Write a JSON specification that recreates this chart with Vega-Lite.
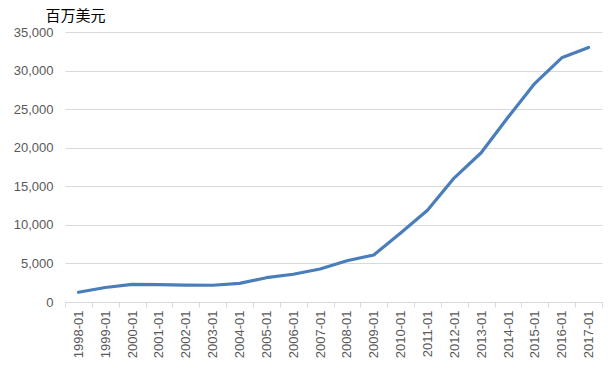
{
  "$schema": "https://vega.github.io/schema/vega-lite/v6.json",
  "width": 537,
  "height": 270,
  "autosize": {"type": "none"},
  "padding": {"left": 65, "top": 32, "right": 12, "bottom": 68},
  "background": "white",
  "config": {"view": {"stroke": null}},
  "data": {"values": [
    {"month": "1998-01", "value": 1260},
    {"month": "1999-01", "value": 1880},
    {"month": "2000-01", "value": 2290},
    {"month": "2001-01", "value": 2250},
    {"month": "2002-01", "value": 2200},
    {"month": "2003-01", "value": 2170},
    {"month": "2004-01", "value": 2420},
    {"month": "2005-01", "value": 3150},
    {"month": "2006-01", "value": 3600},
    {"month": "2007-01", "value": 4280},
    {"month": "2008-01", "value": 5350},
    {"month": "2009-01", "value": 6100},
    {"month": "2010-01", "value": 8950},
    {"month": "2011-01", "value": 11900},
    {"month": "2012-01", "value": 16100},
    {"month": "2013-01", "value": 19350},
    {"month": "2014-01", "value": 23950},
    {"month": "2015-01", "value": 28350},
    {"month": "2016-01", "value": 31650},
    {"month": "2017-01", "value": 33000}
  ]},
  "mark": {"type": "line", "color": "#4a7ebb", "strokeWidth": 3.2, "strokeJoin": "round", "strokeCap": "round"},
  "encoding": {
    "x": {
      "field": "month", "type": "ordinal", "sort": null,
      "scale": {"paddingInner": 0, "paddingOuter": 0},
      "axis": {
        "title": null, "labelAngle": -90, "labelAlign": "right", "labelBaseline": "middle",
        "labelFont": "Liberation Sans", "labelFontSize": 13, "labelColor": "#595959",
        "labelPadding": 3, "tickBand": "extent", "tickSize": 5, "tickColor": "#d9d9d9",
        "domainColor": "#d9d9d9", "domainWidth": 1, "grid": false
      }
    },
    "y": {
      "field": "value", "type": "quantitative",
      "scale": {"domain": [0, 35000], "nice": false},
      "axis": {
        "values": [0, 5000, 10000, 15000, 20000, 25000, 30000, 35000],
        "format": ",d", "domain": false, "ticks": false,
        "labelFont": "Liberation Sans", "labelFontSize": 13, "labelColor": "#595959",
        "labelPadding": 12,
        "gridColor": "#d9d9d9", "gridWidth": 1,
        "title": "百万美元", "titleAngle": 0, "titleFont": "Noto Sans CJK SC",
        "titleFontSize": 15, "titleFontWeight": "normal", "titleColor": "#000000",
        "titleAlign": "center", "titleBaseline": "middle", "titleX": 10, "titleY": -17
      }
    }
  }
}
